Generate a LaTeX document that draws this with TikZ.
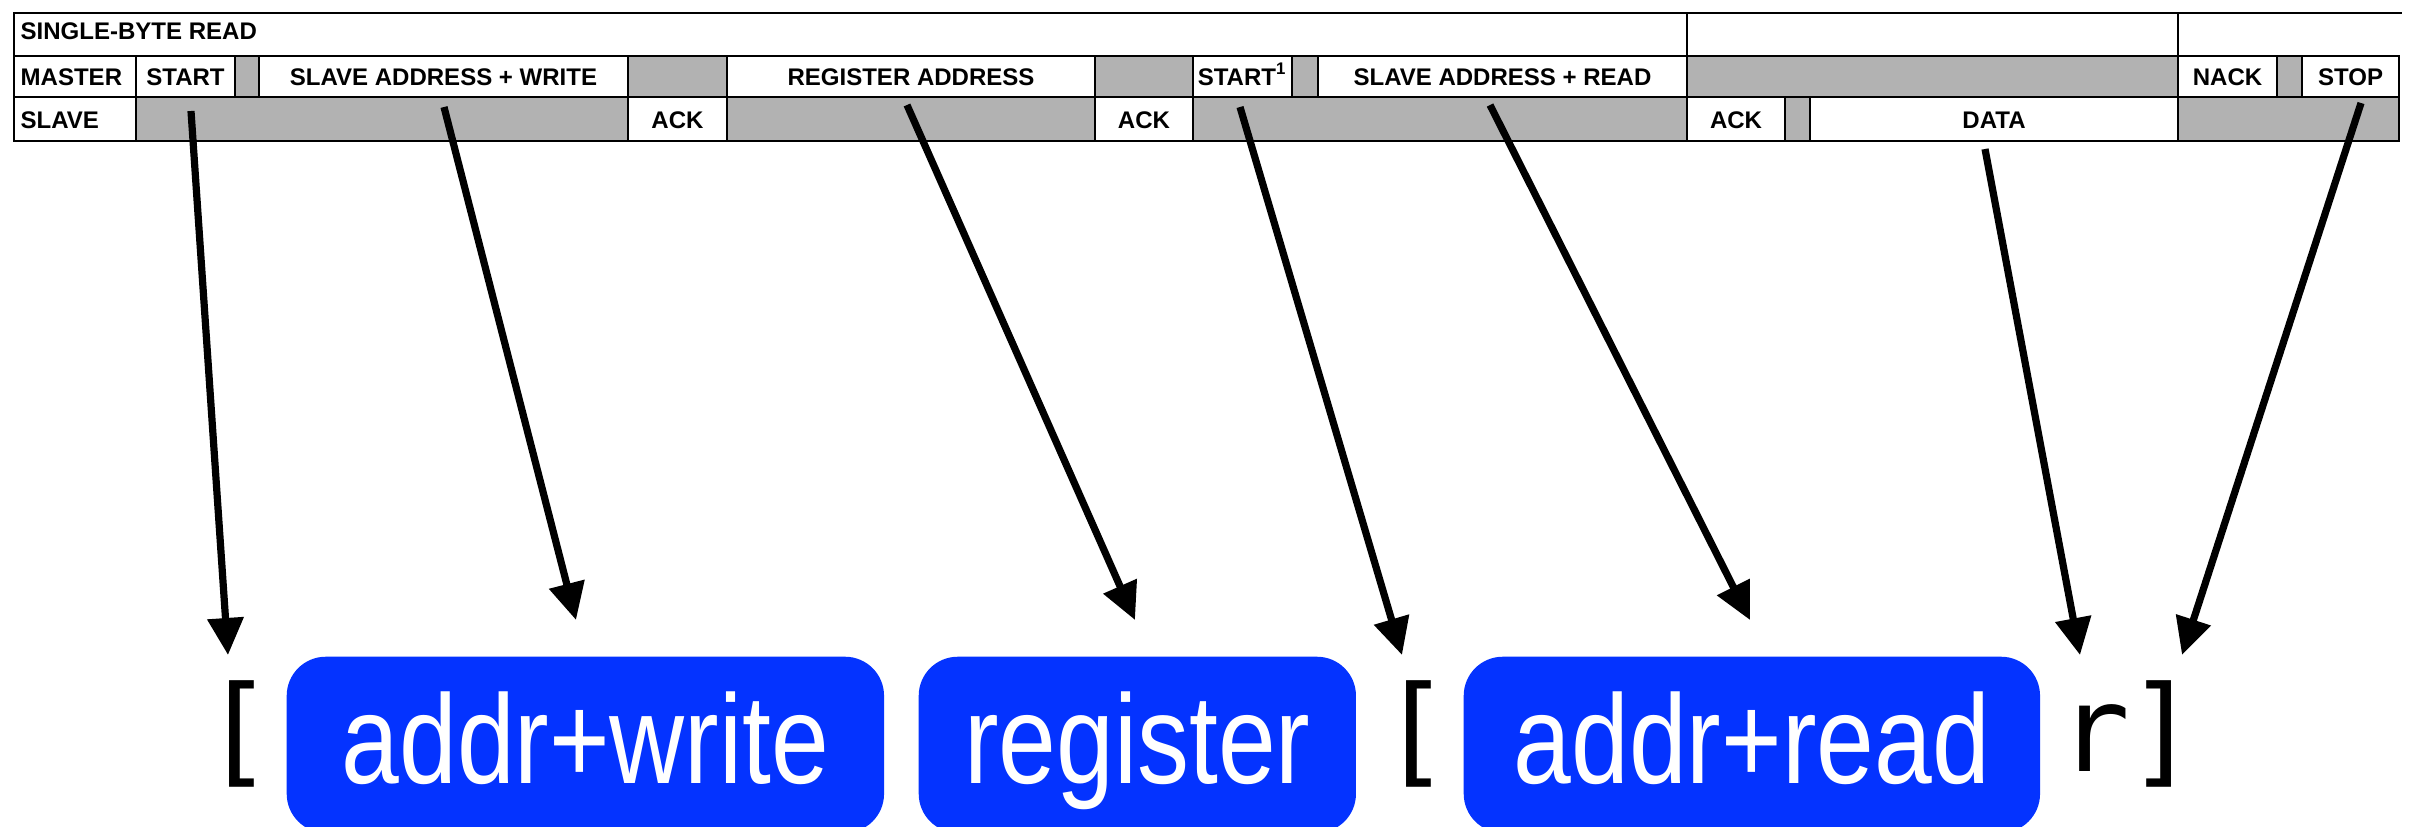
\documentclass[tikz,border=0pt]{standalone}
\usepackage{fontspec}
\setmainfont{Liberation Sans}
\newfontfamily\boxfont[FakeStretch=0.82]{Liberation Sans}
\newfontfamily\brkfont{DejaVu Sans Mono}
\usepackage{tikz}
\usetikzlibrary{arrows.meta}
\definecolor{boxblue}{HTML}{0433FF}
\definecolor{cellgray}{HTML}{B2B2B2}

\begin{document}
\begin{tikzpicture}[
x=0.01cm, y=-0.01cm,
cell/.style={draw=black, line width=0.027cm, fill=white},
graycell/.style={cell, fill=cellgray},
lbl/.style={font=\fontsize{6.83}{8}\selectfont\bfseries, inner sep=0pt, anchor=base},
lbll/.style={lbl, anchor=base west},
blubox/.style={fill=boxblue, rounded corners=0.39cm, inner sep=0pt, anchor=north west, text=white, text height=1.27cm, text depth=0.49cm, font=\boxfont\fontsize{36}{40}\selectfont},
brk/.style={font=\brkfont\fontsize{34}{36}\selectfont, inner sep=0pt, anchor=base},
link/.style={line width=0.072cm, -{Triangle[length=0.37cm,width=0.35cm]}}
]
    \useasboundingbox (0,0) rectangle (2412,826);
    \clip (0,0) rectangle (2412,826);

    % Title row
    \draw[cell] (14,13) rectangle (1687,56);
    \draw[cell] (1687,13) rectangle (2178,56);
    \draw[line width=0.027cm] (2178,13) -- (2402,13);

    % Master row
    \draw[cell] (14,56) rectangle (136,97);
    \draw[cell] (136,56) rectangle (235,97);
    \draw[graycell] (235,56) rectangle (259,97);
    \draw[cell] (259,56) rectangle (628,97);
    \draw[graycell] (628,56) rectangle (727,97);
    \draw[cell] (727,56) rectangle (1095,97);
    \draw[graycell] (1095,56) rectangle (1193,97);
    \draw[cell] (1193,56) rectangle (1292,97);
    \draw[graycell] (1292,56) rectangle (1318,97);
    \draw[cell] (1318,56) rectangle (1687,97);
    \draw[graycell] (1687,56) rectangle (2178,97);
    \draw[cell] (2178,56) rectangle (2277,97);
    \draw[graycell] (2277,56) rectangle (2302,97);
    \draw[cell] (2302,56) rectangle (2399,97);

    % Slave row
    \draw[cell] (14,97) rectangle (136,141);
    \draw[graycell] (136,97) rectangle (628,141);
    \draw[cell] (628,97) rectangle (727,141);
    \draw[graycell] (727,97) rectangle (1095,141);
    \draw[cell] (1095,97) rectangle (1193,141);
    \draw[graycell] (1193,97) rectangle (1687,141);
    \draw[cell] (1687,97) rectangle (1785,141);
    \draw[graycell] (1785,97) rectangle (1810,141);
    \draw[cell] (1810,97) rectangle (2178,141);
    \draw[graycell] (2178,97) rectangle (2399,141);

    % Cell texts
    \node[lbll] (title) at (20,39) {SINGLE-BYTE READ};
    \node[lbll] (master) at (20,85) {MASTER};
    \node[lbl] (mstart) at (185.5,85) {START};
    \node[lbl] (maddrw) at (443.5,85) {SLAVE ADDRESS + WRITE};
    \node[lbl] (mreg) at (911,85) {REGISTER ADDRESS};
    \node[lbl] (mrestart) at (1242.5,85) {START\textsuperscript{1}};
    \node[lbl] (maddrr) at (1502.5,85) {SLAVE ADDRESS + READ};
    \node[lbl] (mnack) at (2227.5,85) {NACK};
    \node[lbl] (mstop) at (2350.5,85) {STOP};
    \node[lbll] (slave) at (20,128) {SLAVE};
    \node[lbl] (sackA) at (677.5,128) {ACK};
    \node[lbl] (sackB) at (1144,128) {ACK};
    \node[lbl] (sackC) at (1736,128) {ACK};
    \node[lbl] (sdata) at (1994,128) {DATA};

    % Notation below
    \node[brk] (lbrA) at (238.5,771) {[};
    \node[blubox, minimum width=5.97cm] (wrbox) at (286,656) {addr+write};
    \node[blubox, minimum width=4.37cm] (regbox) at (918,656) {register};
    \node[brk] (lbrB) at (1415,771) {[};
    \node[blubox, minimum width=5.76cm] (rdbox) at (1463,656) {addr+read};
    \node[brk] (rchar) at (2094,771) {r};
    \node[brk] (rbrk) at (2162,771) {]};

    \draw
    (191,111) coordinate (sStart)
    (228,655) coordinate (tStart)
    (444,107) coordinate (sAddrW)
    (576,620) coordinate (tAddrW)
    (907,105) coordinate (sReg)
    (1135,620) coordinate (tReg)
    (1240,107) coordinate (sRestart)
    (1402,655) coordinate (tRestart)
    (1490,105) coordinate (sAddrR)
    (1750,620) coordinate (tAddrR)
    (1985,149) coordinate (sData)
    (2080,655) coordinate (tData)
    (2361,103) coordinate (sStop)
    (2182,655) coordinate (tStop);

    \draw[link] (sStart) -- (tStart);
    \draw[link] (sAddrW) -- (tAddrW);
    \draw[link] (sReg) -- (tReg);
    \draw[link] (sRestart) -- (tRestart);
    \draw[link] (sAddrR) -- (tAddrR);
    \draw[link] (sData) -- (tData);
    \draw[link] (sStop) -- (tStop);

\end{tikzpicture}
\end{document}
